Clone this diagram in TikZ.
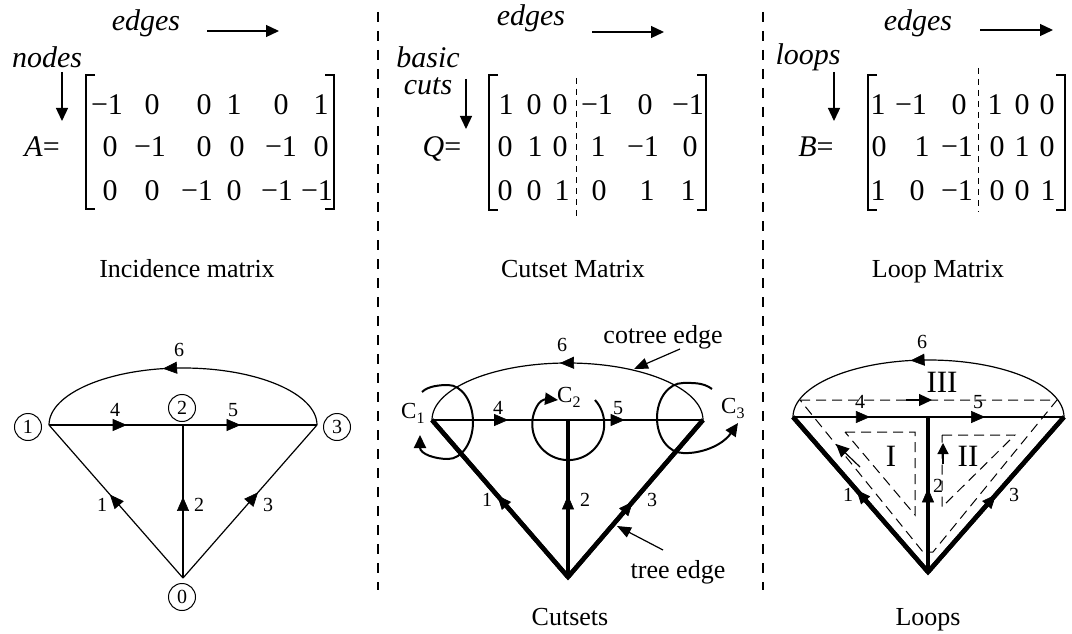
\documentclass[tikz,border=0pt]{standalone}
\usepackage{fontspec}
\setmainfont{Liberation Serif}
\usetikzlibrary{arrows.meta,decorations.markings,calc}
\tikzset{
  ent/.style={font=\fontsize{30}{36}\selectfont, inner sep=0pt, anchor=base},
  itl/.style={font=\fontsize{30}{36}\selectfont\itshape, inner sep=0pt, anchor=base},
  captxt/.style={font=\fontsize{26}{31}\selectfont, inner sep=0pt, anchor=base},
  elab/.style={font=\fontsize{20}{24}\selectfont, inner sep=0pt},
  cnode/.style={circle, draw, line width=1pt, minimum size=27pt, inner sep=0pt, font=\fontsize{20}{24}\selectfont},
  roman/.style={font=\fontsize{31}{36}\selectfont, inner sep=0pt},
  clab/.style={font=\fontsize{23}{28}\selectfont, inner sep=0pt, anchor=base west},
  thinline/.style={line width=1.2pt},
  treeline/.style={line width=4.5pt},
  cutline/.style={line width=2pt},
  sepline/.style={line width=1.2pt, dash pattern=on 10pt off 9pt},
  mdash/.style={line width=1pt, dash pattern=on 6pt off 5pt},
  ldash/.style={line width=1pt, dash pattern=on 10pt off 6pt},
  brk/.style={line width=1.5pt},
  hdarr/.style={line width=1.3pt, -{Triangle[length=13pt,width=12pt]}},
  ptr/.style={line width=1.2pt, -{Triangle[length=14pt,width=11pt]}},
  marr/.style={postaction={decorate}, decoration={markings, mark=at position #1 with {\pgfsetlinewidth{0.6pt}\arrow{Triangle[length=14pt,width=12pt]}}}},
}
\begin{document}
\begin{tikzpicture}[x=1pt,y=-1pt]
\useasboundingbox (0,0) rectangle (1072,634);

% ---------- separators ----------
\coordinate (s1t) at (378,12); \coordinate (s1b) at (378,590);
\coordinate (s2t) at (763,12); \coordinate (s2b) at (763,590);
\draw[sepline] (s1t) -- (s1b);
\draw[sepline] (s2t) -- (s2b);

% ---------- panel 1: incidence matrix ----------
\node[itl] (e1) at (146,31) {edges};
\coordinate (h1a) at (207,31); \coordinate (h1b) at (279,31);
\draw[hdarr] (h1a) -- (h1b);
\node[itl] (nodeslbl) at (47,67) {nodes};
\coordinate (d1a) at (62,72); \coordinate (d1b) at (62,121);
\draw[hdarr] (d1a) -- (d1b);
\node[ent] (Aeq) at (42,157) {\textit{A}=};
\draw[brk] (95,75) -- (86,75) -- (86,209) -- (95,209);
\draw[brk] (325,75) -- (334,75) -- (334,209) -- (325,209);
\foreach \px/\tx [count=\c] in {107/−1,152/0,204/0,234/1,281/0,321/1}
  \node[ent] (A1\c) at (\px,114) {\tx};
\foreach \px/\tx [count=\c] in {110/0,150/−1,204/0,237/0,281/−1,321/0}
  \node[ent] (A2\c) at (\px,157) {\tx};
\foreach \px/\tx [count=\c] in {110/0,152/0,197/−1,234/0,277/−1,317/−1}
  \node[ent] (A3\c) at (\px,200) {\tx};
\node[captxt] (capA) at (187,277) {Incidence matrix};

% ---------- panel 2: cutset matrix ----------
\node[itl] (e2) at (531,26) {edges};
\coordinate (h2a) at (592,32); \coordinate (h2b) at (664,32);
\draw[hdarr] (h2a) -- (h2b);
\node[itl] (basiclbl) at (428,67) {basic};
\node[itl] (cutslbl) at (428,95) {cuts};
\coordinate (d2a) at (466,79); \coordinate (d2b) at (466,129);
\draw[hdarr] (d2a) -- (d2b);
\node[ent] (Qeq) at (442,157) {\textit{Q}=};
\draw[brk] (498,75) -- (489,75) -- (489,210) -- (498,210);
\draw[brk] (697,75) -- (706,75) -- (706,210) -- (697,210);
\coordinate (q1t) at (576,78); \coordinate (q1b) at (576,218);
\draw[mdash] (q1t) -- (q1b);
\foreach \px/\tx [count=\c] in {506/1,534/0,560/0,597/−1,645/0,688/−1}
  \node[ent] (Q1\c) at (\px,114) {\tx};
\foreach \px/\tx [count=\c] in {505/0,535/1,560/0,598/1,643/−1,690/0}
  \node[ent] (Q2\c) at (\px,157) {\tx};
\foreach \px/\tx [count=\c] in {505/0,534/0,562/1,599/0,647/1,688/1}
  \node[ent] (Q3\c) at (\px,200) {\tx};
\node[captxt] (capQ) at (573,277) {Cutset Matrix};

% ---------- panel 3: loop matrix ----------
\node[itl] (e3) at (918,31) {edges};
\coordinate (h3a) at (980,30); \coordinate (h3b) at (1053,30);
\draw[hdarr] (h3a) -- (h3b);
\node[itl] (loopslbl) at (808,65) {loops};
\coordinate (d3a) at (834,72); \coordinate (d3b) at (834,121);
\draw[hdarr] (d3a) -- (d3b);
\node[ent] (Beq) at (816,157) {\textit{B}=};
\draw[brk] (877,75) -- (868,75) -- (868,210) -- (877,210);
\draw[brk] (1056,75) -- (1065,75) -- (1065,210) -- (1056,210);
\coordinate (b1t) at (978,68); \coordinate (b1b) at (978,212);
\draw[mdash] (b1t) -- (b1b);
\foreach \px/\tx [count=\c] in {878/1,911/−1,959/0,995/1,1022/0,1047/0}
  \node[ent] (B1\c) at (\px,114) {\tx};
\foreach \px/\tx [count=\c] in {879/0,922/1,957/−1,997/0,1022/1,1047/0}
  \node[ent] (B2\c) at (\px,157) {\tx};
\foreach \px/\tx [count=\c] in {878/1,917/0,957/−1,997/0,1022/0,1048/1}
  \node[ent] (B3\c) at (\px,200) {\tx};
\node[captxt] (capB) at (938,277) {Loop Matrix};

% ---------- graph 1 ----------
\coordinate (g1L) at (49,425); \coordinate (g1M) at (183,425);
\coordinate (g1R) at (317,425); \coordinate (g1B) at (183,578);
\draw[thinline, marr=0.564] (g1R) arc[start angle=0, end angle=-180, x radius=134, y radius=57];
\draw[thinline, marr=0.58] (g1L) -- (g1M);
\draw[thinline, marr=0.43] (g1M) -- (g1R);
\draw[thinline, marr=0.545] (g1B) -- (g1L);
\draw[thinline, marr=0.53] (g1B) -- (g1M);
\draw[thinline, marr=0.56] (g1B) -- (g1R);
\node[cnode] (n1) at (28,427) {1};
\node[cnode] (n2) at (182,408) {2};
\node[cnode] (n3) at (337,427) {3};
\node[cnode] (n0) at (182,597) {0};
\node[elab] (g1l6) at (179,350) {6};
\node[elab] (g1l4) at (115,410) {4};
\node[elab] (g1l5) at (233,410) {5};
\node[elab] (g1l1) at (102,505) {1};
\node[elab] (g1l2) at (199,505) {2};
\node[elab] (g1l3) at (268,505) {3};

% ---------- graph 2 ----------
\coordinate (g2L) at (432,420); \coordinate (g2M) at (568,420);
\coordinate (g2R) at (703,420); \coordinate (g2B) at (568,577);
\draw[thinline, marr=0.524] (g2R) arc[start angle=0, end angle=-180, x radius=135.5, y radius=57];
\draw[thinline, marr=0.56] (g2L) -- (g2M);
\draw[thinline, marr=0.42] (g2M) -- (g2R);
\draw[treeline, line join=miter] (g2L) -- (g2B) -- (g2R);
\draw[treeline, marr=0.52] (g2B) -- (g2L);
\draw[treeline, marr=0.52] (g2B) -- (g2M);
\draw[treeline, marr=0.48] (g2B) -- (g2R);
\node[elab] (g2l6) at (562,345) {6};
\node[elab] (g2l4) at (498,408) {4};
\node[elab] (g2l5) at (618,408) {5};
\node[elab] (g2l1) at (487,500) {1};
\node[elab] (g2l2) at (585,500) {2};
\node[elab] (g2l3) at (652,500) {3};
% cutset loops
\draw[cutline, -{Triangle[length=13pt,width=12pt]}] (422,392) .. controls (428,386) and (440,385) .. (448,385)
  arc[start angle=270, end angle=450, x radius=25, y radius=37]
  .. controls (435,459) and (420,454) .. (420,435);
\draw[cutline, -{Triangle[length=13pt,width=12pt]}] (595,400) arc[start angle=-42, end angle=215, radius=36]
  .. controls (541.8,399.2) and (548,399) .. (558,400);
\draw[cutline, -{Triangle[length=13pt,width=12pt]}] (712,389) .. controls (703,382) and (691,383) .. (683,383)
  arc[start angle=270, end angle=90, x radius=26, y radius=35]
  .. controls (700,454) and (722,446) .. (738,423);
\node[clab] (c1) at (401,418) {C\raisebox{-5pt}{\fontsize{16}{18}\selectfont 1}};
\node[clab] (c2) at (557,402) {C\raisebox{-5pt}{\fontsize{16}{18}\selectfont 2}};
\node[clab] (c3) at (721,413) {C\raisebox{-5pt}{\fontsize{16}{18}\selectfont 3}};
% pointers
\node[captxt] (cotree) at (663,343) {cotree edge};
\coordinate (cttail) at (680,349); \coordinate (cttip) at (634,369);
\draw[ptr] (cttail) -- (cttip);
\node[captxt] (treelbl) at (678,578) {tree edge};
\coordinate (trtail) at (663,550); \coordinate (trtip) at (617,526);
\draw[ptr] (trtail) -- (trtip);
\node[captxt] (capC) at (570,625) {Cutsets};

% ---------- graph 3 ----------
\coordinate (g3L) at (793,417); \coordinate (g3M) at (928,417);
\coordinate (g3R) at (1064,417); \coordinate (g3B) at (928,572);
\draw[thinline, marr=0.557] (g3R) arc[start angle=0, end angle=-180, x radius=135.5, y radius=57];
\draw[thinline, marr=0.57] (g3L) -- (g3M);
\draw[thinline, marr=0.42] (g3M) -- (g3R);
\draw[treeline, line join=miter] (g3L) -- (g3B) -- (g3R);
\draw[treeline, marr=0.53] (g3B) -- (g3L);
\draw[treeline, marr=0.54] (g3B) -- (g3M);
\draw[treeline, marr=0.50] (g3B) -- (g3R);
\node[elab] (g3l6) at (922,342) {6};
\node[elab] (g3l4) at (860,402) {4};
\node[elab] (g3l5) at (978,402) {5};
\node[elab] (g3l1) at (848,495) {1};
\node[elab] (g3l2) at (938,486) {2};
\node[elab] (g3l3) at (1014,495) {3};
% loops
\draw[ldash] (800,400) -- (1057,400) -- (933,552) -- (923,552) -- cycle;
\draw[ldash] (845,432) -- (915,432) -- (915,515) -- cycle;
\draw[ldash] (942,435) -- (1015,435) -- (942,507) -- cycle;
\draw[thinline, -{Triangle[length=13pt,width=12pt]}] (906,400) -- (932,400);
\draw[thinline, -{Triangle[length=13pt,width=12pt]}] (860,467) -- (836,444);
\draw[thinline, -{Triangle[length=11pt,width=11pt]}] (943,464) -- (943,443);
\node[roman] (r3) at (942,382) {III};
\node[roman] (r1) at (891,456) {I};
\node[roman] (r2) at (968,456) {II};
\node[captxt] (capL) at (928,625) {Loops};
\end{tikzpicture}
\end{document}
